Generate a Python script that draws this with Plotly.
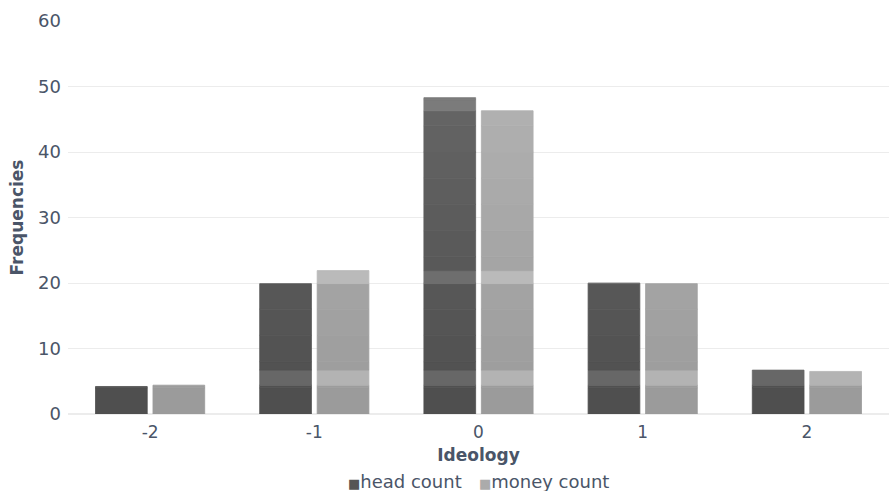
import numpy as np
import plotly.graph_objects as go

# Frequencies of ideology scores, counted by heads and by money
categories = ["-2", "-1", "0", "1", "2"]
head_count = [4.2, 19.9, 48.3, 20.0, 6.7]
money_count = [4.4, 21.9, 46.3, 19.9, 6.5]

# lighter horizontal bands across the bars
band_low = [4.4, 19.9, 46.3]
band_high = [6.7, 21.9, 48.3]

series = [
    ("head count", head_count, 0x4E, "#555555"),
    ("money count", money_count, 0x9A, "#ababab"),
]

# slice edges used to build the vertical shading of each bar
edges = sorted(set(np.round(np.arange(0, 62.5, 4.0), 3).tolist() + band_low + band_high))

def in_band(mid):
    return any(lo <= mid <= hi for lo, hi in zip(band_low, band_high))

fig = go.Figure()
for name, values, base_shade, legend_col in series:
    for a, b in zip(edges[:-1], edges[1:]):
        heights = [min(v, b) - a if v > a else None for v in values]
        if all(h is None for h in heights):
            continue
        mid = (a + b) / 2
        shade = base_shade + 0x17 * mid / 48 + (0x16 if in_band(mid) else 0)
        s = int(round(min(shade, 255)))
        col = f"rgb({s},{s},{s})"
        fig.add_trace(go.Bar(
            x=categories, y=heights, base=[a] * len(categories),
            name=name, legendgroup=name, offsetgroup=name,
            showlegend=False,
            marker=dict(color=col, line=dict(width=0.8, color=col)),
            hoverinfo="skip",
        ))

font_col = "#4a5568"

# legend line below the axis title
legend_text = "   ".join(
    f"<span style='color:{c}; font-size:13px'>■</span>{n}" for n, _, _, c in series
)
fig.add_annotation(
    text=legend_text, xref="paper", yref="paper", x=0.5, xanchor="center",
    y=-(481 - 414) / 393, yanchor="middle", showarrow=False,
    font=dict(size=18, color=font_col),
)

fig.update_layout(
    width=889, height=491,
    margin=dict(l=68, r=0, t=21, b=77, autoexpand=False),
    paper_bgcolor="white", plot_bgcolor="white",
    barmode="group", bargap=0.3, bargroupgap=0.1,
    showlegend=False,
    font=dict(family="DejaVu Sans", size=18, color=font_col),
    xaxis=dict(type="category", showgrid=False, showline=False, zeroline=False,
               ticks="", tickfont=dict(size=17), ticklabelstandoff=6,
               title=dict(text="<b>Ideology</b>", font=dict(size=17), standoff=8)),
    yaxis=dict(range=[0, 60], dtick=10, showgrid=True, gridcolor="#ececec",
               zeroline=True, zerolinecolor="#ececec", showline=False, ticks="",
               tickfont=dict(size=18), ticklabelstandoff=6,
               title=dict(text="<b>Frequencies</b>", font=dict(size=17), standoff=10)),
)

fig.write_html("out.html")
